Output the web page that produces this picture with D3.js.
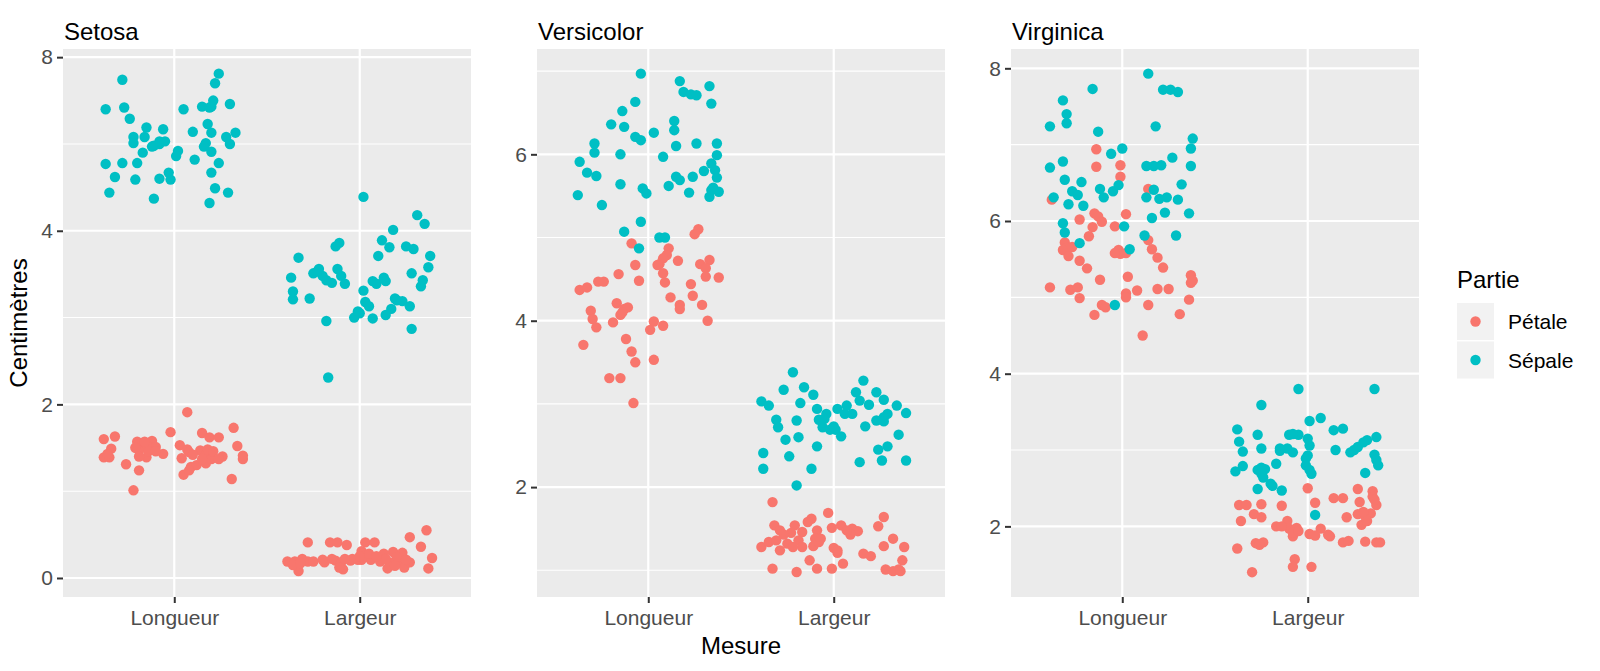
<!DOCTYPE html>
<html><head><meta charset="utf-8">
<script src="https://cdn.jsdelivr.net/npm/d3@7"></script>
<style>body{margin:0;background:#fff} text{font-family:"Liberation Sans",Arial,Helvetica,sans-serif}</style>
</head><body><svg id="chart" width="1600" height="671"></svg>
<script>
// ---------- categories, ticks ----------
const species = ["Setosa", "Versicolor", "Virginica"];
const measures = ["Longueur", "Largeur"];
const parts = ["Pétale", "Sépale"];
const partColors = ["#F8766D", "#00BFC4"];
const yTickValues = [[0, 2, 4, 6], [2, 4, 6], [2, 4, 6, 8]];
const yTickLabels = [["0", "2", "4", "8"], ["2", "4", "6"], ["2", "4", "6", "8"]];
const yMinorValues = [[1, 3, 5], [1, 3, 5, 7], [3, 5, 7]];
const yDomains = [[-0.219, 6.094], [0.679, 7.266], [1.075, 8.253]];

// ---------- data: [horizontal jitter (category units), centimètres] ----------
const setosaLongueurSepale = [[-0.28,5.74],[-0.37,5.40],[-0.27,5.42],[-0.24,5.29],[-0.15,5.19],[-0.06,5.17],[-0.22,5.08],[-0.16,5.08],[-0.22,5.01],[-0.11,4.98],[-0.08,5.00],[-0.05,5.03],[-0.12,4.97],[-0.17,4.90],[0.02,4.92],[0.01,4.86],[-0.37,4.77],[-0.28,4.78],[-0.20,4.78],[-0.32,4.62],[-0.21,4.59],[-0.08,4.60],[-0.03,4.67],[-0.02,4.59],[-0.35,4.44],[-0.11,4.37],[0.05,5.40],[0.15,5.43],[0.19,5.42],[0.21,5.50],[0.30,5.46],[0.24,5.81],[0.22,5.70],[0.18,5.23],[0.20,5.13],[0.10,5.14],[0.28,5.08],[0.33,5.13],[0.30,5.00],[0.17,5.01],[0.16,4.97],[0.20,4.91],[0.11,4.82],[0.24,4.78],[0.20,4.67],[0.22,4.49],[0.29,4.44],[0.19,4.32],[0.20,5.43],[-0.08,5.03]];
const setosaLongueurPetale = [[0.07,1.91],[-0.38,1.60],[-0.32,1.63],[-0.34,1.49],[-0.38,1.39],[-0.35,1.39],[-0.26,1.31],[-0.19,1.24],[-0.22,1.01],[-0.20,1.57],[-0.17,1.51],[-0.19,1.47],[-0.15,1.39],[-0.12,1.58],[-0.10,1.51],[-0.15,1.53],[-0.06,1.43],[-0.02,1.68],[0.03,1.53],[0.04,1.38],[0.07,1.48],[0.08,1.45],[0.05,1.19],[0.09,1.28],[0.15,1.67],[0.19,1.62],[0.24,1.62],[0.32,1.73],[0.34,1.52],[0.37,1.37],[0.31,1.14],[0.14,1.47],[0.17,1.42],[0.18,1.48],[0.17,1.32],[0.12,1.30],[0.26,1.40],[0.20,1.37],[-0.21,1.50],[-0.14,1.46],[0.37,1.41],[0.15,1.37],[0.10,1.42],[-0.19,1.40],[-0.36,1.43],[0.21,1.46],[0.24,1.37],[0.08,1.24],[-0.10,1.46],[-0.16,1.57]];
const setosaLargeurSepale = [[0.02,4.39],[0.31,4.18],[0.35,4.08],[0.18,4.01],[0.12,3.89],[0.16,3.81],[0.10,3.71],[0.25,3.82],[0.29,3.79],[0.38,3.71],[0.37,3.58],[0.28,3.51],[0.34,3.43],[0.33,3.36],[-0.11,3.86],[-0.13,3.82],[-0.33,3.69],[-0.37,3.46],[-0.36,3.30],[-0.36,3.21],[-0.27,3.22],[-0.25,3.51],[-0.22,3.56],[-0.18,3.43],[-0.15,3.40],[-0.12,3.56],[-0.10,3.48],[-0.08,3.39],[-0.20,3.48],[-0.18,2.96],[-0.17,2.31],[0.02,3.31],[0.07,3.42],[0.09,3.39],[0.13,3.46],[0.14,3.42],[0.03,3.18],[0.05,3.13],[-0.01,3.07],[-0.03,3.00],[0.07,2.99],[0.14,3.03],[0.17,3.10],[0.19,3.22],[0.23,3.19],[0.27,3.13],[0.28,2.87],[0.00,3.05],[-0.23,3.53],[0.20,3.20]];
const setosaLargeurPetale = [[-0.28,0.41],[-0.16,0.41],[-0.12,0.41],[-0.07,0.38],[0.03,0.41],[0.08,0.41],[0.27,0.47],[0.36,0.55],[0.33,0.36],[0.39,0.23],[0.37,0.11],[-0.39,0.19],[-0.35,0.19],[-0.31,0.22],[-0.33,0.08],[-0.28,0.19],[-0.36,0.15],[-0.19,0.18],[-0.13,0.20],[-0.09,0.10],[-0.10,0.18],[-0.05,0.20],[-0.01,0.21],[0.01,0.31],[0.04,0.25],[0.06,0.21],[0.01,0.21],[0.13,0.28],[0.18,0.30],[0.23,0.29],[0.16,0.18],[0.15,0.11],[0.21,0.19],[0.24,0.12],[0.27,0.18],[0.20,0.24],[-0.04,0.22],[-0.15,0.22],[-0.25,0.19],[-0.08,0.22],[0.05,0.28],[0.11,0.19],[0.25,0.21],[0.00,0.25],[-0.11,0.12],[-0.32,0.17],[0.14,0.22],[0.19,0.14],[-0.20,0.21],[0.09,0.25]];

const versicolorLongueurSepale = [[-0.04,6.97],[0.17,6.88],[0.19,6.75],[0.23,6.72],[0.26,6.71],[0.33,6.82],[0.34,6.61],[-0.07,6.63],[-0.14,6.52],[-0.20,6.36],[-0.13,6.33],[-0.07,6.21],[-0.04,6.17],[0.03,6.26],[0.14,6.40],[0.14,6.29],[0.15,6.10],[0.26,6.13],[0.37,6.13],[-0.29,6.13],[-0.29,6.02],[-0.15,6.00],[-0.37,5.91],[-0.33,5.78],[-0.28,5.74],[-0.15,5.64],[-0.38,5.51],[-0.25,5.39],[-0.03,5.59],[-0.01,5.53],[0.08,5.97],[0.11,5.62],[0.15,5.73],[0.17,5.69],[0.22,5.54],[0.24,5.73],[0.30,5.80],[0.34,5.89],[0.37,5.99],[0.36,5.81],[0.37,5.72],[0.35,5.60],[0.38,5.55],[0.33,5.49],[-0.04,5.19],[-0.13,5.07],[0.06,5.00],[0.09,5.00],[-0.05,4.87],[0.34,5.57]];
const versicolorLongueurPetale = [[0.27,5.10],[0.25,5.04],[-0.09,4.93],[0.11,4.87],[0.10,4.79],[0.08,4.75],[0.06,4.68],[0.16,4.72],[-0.07,4.67],[-0.16,4.56],[-0.05,4.48],[0.08,4.57],[0.09,4.46],[0.28,4.68],[0.33,4.73],[0.31,4.63],[0.31,4.53],[0.38,4.52],[0.23,4.44],[0.24,4.30],[0.12,4.28],[0.17,4.19],[0.17,4.14],[0.29,4.19],[0.32,4.00],[-0.37,4.37],[-0.33,4.40],[-0.27,4.47],[-0.24,4.47],[-0.31,4.12],[-0.30,4.02],[-0.28,3.92],[-0.17,4.21],[-0.13,4.14],[-0.11,4.16],[-0.15,4.07],[-0.19,3.98],[0.03,3.99],[0.01,3.89],[0.08,3.94],[-0.12,3.78],[-0.35,3.71],[-0.09,3.63],[-0.07,3.50],[0.03,3.53],[-0.21,3.31],[-0.15,3.31],[-0.08,3.01],[-0.14,4.10],[0.05,4.67]];
const versicolorLargeurSepale = [[-0.22,3.38],[-0.27,3.17],[-0.16,3.20],[-0.11,3.11],[-0.39,3.03],[-0.35,2.98],[-0.18,3.01],[-0.31,2.81],[-0.30,2.72],[-0.20,2.80],[-0.26,2.57],[-0.38,2.41],[-0.24,2.37],[-0.38,2.22],[-0.12,2.22],[-0.20,2.02],[-0.09,2.49],[-0.09,2.94],[-0.04,2.88],[-0.08,2.81],[-0.06,2.72],[-0.02,2.69],[0.01,2.69],[0.04,2.61],[0.02,2.94],[0.07,2.98],[0.06,2.88],[0.10,2.88],[0.16,3.28],[0.12,3.14],[0.14,3.04],[0.19,2.99],[0.23,3.14],[0.27,3.05],[0.34,2.98],[0.39,2.89],[0.29,2.88],[0.23,2.80],[0.27,2.84],[0.17,2.73],[0.35,2.63],[0.24,2.45],[0.29,2.49],[0.26,2.32],[0.39,2.32],[0.14,2.30],[-0.19,2.60],[0.00,2.73],[-0.05,2.82],[0.27,2.79]];
const versicolorLargeurPetale = [[-0.33,1.82],[-0.03,1.69],[-0.12,1.62],[-0.32,1.54],[-0.21,1.54],[-0.29,1.48],[-0.23,1.45],[-0.17,1.46],[-0.09,1.48],[-0.10,1.38],[-0.01,1.51],[0.04,1.54],[0.10,1.50],[0.13,1.47],[0.09,1.43],[0.27,1.64],[0.24,1.53],[0.32,1.38],[0.27,1.29],[0.38,1.28],[0.37,1.12],[0.35,1.01],[0.28,1.01],[0.16,1.20],[0.20,1.17],[0.00,1.27],[0.02,1.21],[0.05,1.08],[-0.01,1.02],[-0.09,1.02],[-0.13,1.12],[-0.20,0.98],[-0.33,1.02],[-0.39,1.28],[-0.35,1.34],[-0.29,1.24],[-0.25,1.32],[-0.19,1.36],[-0.17,1.28],[-0.11,1.29],[-0.08,1.34],[-0.22,1.28],[0.07,1.48],[0.32,0.99],[0.36,0.99],[-0.07,1.38],[-0.27,1.43],[-0.14,1.58],[0.02,1.24],[-0.31,1.36]];

const virginicaLongueurSepale = [[0.14,7.93],[-0.16,7.73],[0.22,7.72],[0.26,7.72],[0.30,7.69],[-0.32,7.58],[-0.30,7.40],[-0.30,7.28],[-0.39,7.24],[0.18,7.24],[-0.13,7.17],[0.38,7.08],[0.37,6.95],[0.00,6.95],[-0.06,6.88],[-0.32,6.78],[-0.39,6.70],[0.27,6.83],[0.37,6.72],[0.13,6.72],[0.17,6.72],[0.21,6.73],[-0.31,6.54],[-0.22,6.51],[-0.27,6.39],[-0.24,6.34],[-0.12,6.42],[-0.10,6.31],[-0.05,6.39],[-0.02,6.47],[-0.37,6.31],[-0.29,6.22],[-0.21,6.20],[0.17,6.41],[0.13,6.31],[0.20,6.29],[0.32,6.48],[0.30,6.28],[0.23,6.11],[0.16,6.04],[0.36,6.10],[-0.32,5.97],[-0.31,5.85],[-0.23,5.71],[0.01,5.93],[0.12,5.81],[0.29,5.81],[0.04,5.63],[-0.04,4.90],[0.24,6.31]];
const virginicaLongueurPetale = [[-0.14,6.94],[-0.14,6.71],[-0.01,6.73],[-0.01,6.58],[0.14,6.42],[-0.38,6.28],[-0.15,6.10],[-0.13,6.06],[-0.11,5.99],[0.02,6.09],[-0.23,6.02],[-0.16,5.92],[-0.18,5.80],[-0.04,5.93],[-0.31,5.72],[-0.30,5.65],[-0.32,5.62],[-0.27,5.66],[-0.29,5.54],[-0.23,5.48],[-0.19,5.38],[-0.02,5.62],[-0.01,5.57],[0.02,5.58],[0.14,5.75],[0.16,5.63],[0.19,5.52],[0.22,5.39],[0.03,5.27],[-0.12,5.23],[-0.39,5.13],[-0.28,5.10],[-0.24,5.13],[-0.23,4.99],[0.02,5.05],[0.08,5.09],[0.02,5.00],[0.19,5.11],[0.25,5.11],[0.37,5.29],[0.37,5.19],[0.36,4.97],[0.14,4.90],[-0.11,4.90],[-0.09,4.87],[-0.15,4.77],[0.31,4.78],[0.11,4.50],[-0.04,5.58],[0.38,5.22]];
const virginicaLargeurSepale = [[-0.05,3.80],[0.36,3.80],[-0.25,3.59],[0.01,3.38],[0.07,3.42],[0.14,3.26],[0.19,3.28],[-0.38,3.27],[-0.27,3.20],[-0.10,3.20],[-0.05,3.20],[-0.37,3.11],[-0.35,2.98],[-0.25,3.02],[-0.15,3.02],[-0.11,3.02],[-0.08,2.97],[0.01,3.06],[0.00,2.93],[-0.01,2.80],[0.02,2.69],[-0.35,2.79],[-0.39,2.72],[-0.27,2.74],[-0.23,2.75],[-0.24,2.64],[-0.17,2.82],[-0.27,2.49],[-0.19,2.53],[-0.14,2.47],[0.15,3.00],[0.23,2.97],[0.27,3.04],[0.32,3.13],[0.37,3.17],[0.36,2.94],[0.38,2.80],[0.31,2.70],[0.04,2.15],[0.00,3.15],[-0.01,2.89],[-0.25,2.77],[0.30,3.10],[0.25,3.00],[0.01,2.74],[-0.20,2.56],[-0.25,2.69],[-0.15,2.99],[-0.08,3.21],[0.37,2.87]];
const virginicaLargeurPetale = [[0.00,2.50],[0.27,2.49],[0.35,2.46],[0.35,2.39],[0.37,2.28],[0.14,2.37],[0.19,2.37],[0.28,2.32],[0.04,2.31],[-0.37,2.28],[-0.33,2.28],[-0.25,2.29],[-0.14,2.27],[-0.29,2.16],[-0.25,2.12],[-0.36,2.07],[-0.17,2.00],[-0.11,2.07],[-0.10,1.97],[-0.06,1.98],[-0.08,1.87],[0.01,1.90],[0.07,1.97],[0.12,1.87],[0.21,2.12],[0.27,2.16],[0.31,2.13],[0.29,2.02],[0.34,2.17],[0.19,1.79],[0.22,1.81],[0.31,1.80],[0.37,1.79],[0.39,1.79],[-0.38,1.71],[-0.28,1.78],[-0.24,1.79],[-0.07,1.57],[-0.08,1.47],[0.02,1.47],[-0.30,1.40],[-0.08,1.92],[-0.05,1.94],[0.30,2.19],[-0.26,1.76],[0.32,2.07],[0.36,2.35],[0.04,1.88],[-0.14,2.00],[0.11,1.89]];

// series per species: [measure][part]
const seriesBySpecies = [
  [[setosaLongueurPetale, setosaLongueurSepale], [setosaLargeurPetale, setosaLargeurSepale]],
  [[versicolorLongueurPetale, versicolorLongueurSepale], [versicolorLargeurPetale, versicolorLargeurSepale]],
  [[virginicaLongueurPetale, virginicaLongueurSepale], [virginicaLargeurPetale, virginicaLargeurSepale]]
];

// ---------- layout ----------
const W = 1600, H = 671;
const panelLeft0 = 63, panelStep = 474, panelW = 408;
const panelTop = 49, panelBottom = 597;
const svg = d3.select("#chart");
svg.append("rect").attr("width", W).attr("height", H).attr("fill", "#fff");

species.forEach((sp, s) => {
  const left = panelLeft0 + s * panelStep;
  const x = d3.scaleLinear().domain([0.4, 2.6]).range([left, left + panelW]);
  const y = d3.scaleLinear().domain(yDomains[s]).range([panelBottom, panelTop]);
  const g = svg.append("g");

  g.append("rect").attr("x", left).attr("y", panelTop)
    .attr("width", panelW).attr("height", panelBottom - panelTop).attr("fill", "#EBEBEB");

  g.selectAll(".minor").data(yMinorValues[s]).join("line")
    .attr("x1", left).attr("x2", left + panelW)
    .attr("y1", d => y(d)).attr("y2", d => y(d))
    .attr("stroke", "#fff").attr("stroke-width", 1.1);
  g.selectAll(".majorY").data(yTickValues[s]).join("line")
    .attr("x1", left).attr("x2", left + panelW)
    .attr("y1", d => y(d)).attr("y2", d => y(d))
    .attr("stroke", "#fff").attr("stroke-width", 2.2);
  g.selectAll(".majorX").data([1, 2]).join("line")
    .attr("x1", d => x(d)).attr("x2", d => x(d))
    .attr("y1", panelTop).attr("y2", panelBottom)
    .attr("stroke", "#fff").attr("stroke-width", 2.2);

  // axes
  const ya = g.append("g").attr("transform", `translate(${left},0)`)
    .call(d3.axisLeft(y).tickValues(yTickValues[s])
      .tickFormat((d, i) => yTickLabels[s][i]).tickSize(6).tickPadding(4));
  const xa = g.append("g").attr("transform", `translate(0,${panelBottom})`)
    .call(d3.axisBottom(x).tickValues([1, 2])
      .tickFormat(d => measures[d - 1]).tickSize(6).tickPadding(7));
  [ya, xa].forEach(a => {
    a.select(".domain").remove();
    a.selectAll(".tick line").attr("stroke", "#333333").attr("stroke-width", 2);
    a.selectAll(".tick text").attr("fill", "#4D4D4D").style("font-size", "21px")
      .style("font-family", '"Liberation Sans", Arial, sans-serif');
  });

  // points (petal and sepal interleaved)
  const pts = [];
  measures.forEach((m, mi) => {
    const n = seriesBySpecies[s][mi][0].length;
    for (let i = 0; i < n; i++) {
      parts.forEach((p, pi) => {
        const d = seriesBySpecies[s][mi][pi][i];
        if (d) pts.push({ cat: mi + 1, jitter: d[0], cm: d[1], part: pi });
      });
    }
  });
  g.selectAll("circle").data(pts).join("circle")
    .attr("cx", d => x(d.cat + d.jitter))
    .attr("cy", d => y(d.cm))
    .attr("r", 5.2)
    .attr("fill", d => partColors[d.part]);

  // strip title
  g.append("text").attr("x", left + 1).attr("y", 40)
    .attr("fill", "#000").style("font-size", "24px").text(sp);
});

// axis titles
svg.append("text").attr("transform", "translate(27,323) rotate(-90)")
  .attr("text-anchor", "middle").style("font-size", "24px").attr("fill", "#000")
  .text("Centimètres");
svg.append("text").attr("x", panelLeft0 + panelStep + panelW / 2).attr("y", 654)
  .attr("text-anchor", "middle").style("font-size", "24px").attr("fill", "#000")
  .text("Mesure");

// legend
const lg = svg.append("g");
lg.append("text").attr("x", 1457).attr("y", 288).style("font-size", "24px").attr("fill", "#000").text("Partie");
parts.forEach((p, i) => {
  const ky = 303 + i * 38.5;
  lg.append("rect").attr("x", 1457).attr("y", ky).attr("width", 37).attr("height", 37).attr("fill", "#F2F2F2");
  lg.append("circle").attr("cx", 1475.5).attr("cy", ky + 18.5).attr("r", 5.2).attr("fill", partColors[i]);
  lg.append("text").attr("x", 1508).attr("y", ky + 18.5).attr("dy", "0.36em")
    .style("font-size", "21px").attr("fill", "#000").text(p);
});
</script></body></html>
